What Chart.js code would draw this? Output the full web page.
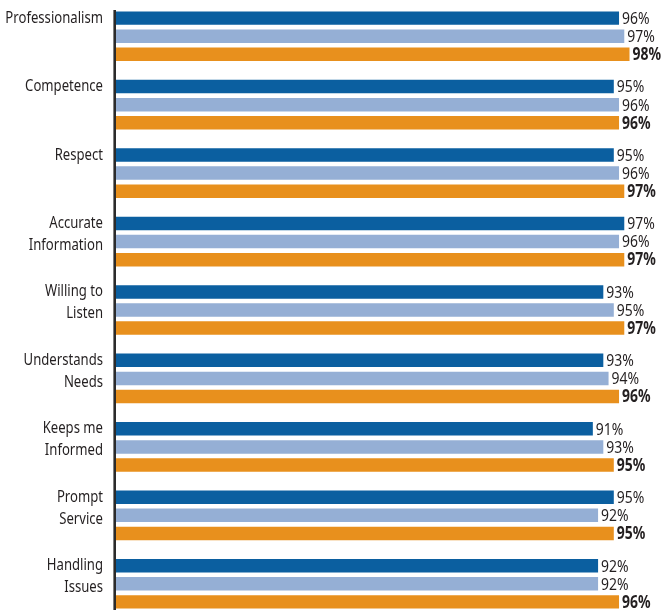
<!DOCTYPE html>
<html>
<head>
<meta charset="utf-8">
<script src="https://cdn.jsdelivr.net/npm/chart.js@4"></script>
<style>
    html, body { margin: 0; padding: 0; background: #fff; overflow: hidden; }
    #wrap { width: 664px; height: 620px; position: relative; }
</style>
</head>
<body>
<div id="wrap"><canvas id="myChart"></canvas></div>
<script>
// one entry per attribute, split over lines the way they are printed
const categories = [
    ['Professionalism'],
    ['Competence'],
    ['Respect'],
    ['Accurate', 'Information'],
    ['Willing to', 'Listen'],
    ['Understands', 'Needs'],
    ['Keeps me', 'Informed'],
    ['Prompt', 'Service'],
    ['Handling', 'Issues']
];
const seriesA = [96, 95, 95, 97, 93, 93, 91, 95, 92];
const seriesB = [97, 96, 96, 96, 95, 94, 93, 92, 92];
const seriesC = [98, 96, 97, 97, 97, 96, 95, 95, 96];
const seriesNames = ['Series 1', 'Series 2', 'Series 3'];

const FONT = '"Noto Sans", "Open Sans", sans-serif';
const TEXT = '#231f20';
const SQUEEZE = 0.82;   // condensed look for all text

function drawNarrow(ctx, str, x, y) {
    ctx.save();
    ctx.translate(x, y);
    ctx.scale(SQUEEZE, 1);
    ctx.fillText(str, 0, 0);
    ctx.restore();
}

// category names, first line level with the first bar of each group
const categoryLabels = {
    id: 'categoryLabels',
    afterDraw(chart) {
        const ctx = chart.ctx;
        const first = chart.getDatasetMeta(0).data;
        ctx.save();
        ctx.fillStyle = TEXT;
        ctx.textBaseline = 'middle';
        ctx.textAlign = 'right';
        ctx.font = '16px ' + FONT;
        chart.data.labels.forEach((lines, i) => {
            lines.forEach((line, k) => {
                drawNarrow(ctx, line, chart.chartArea.left - 13, first[i].y + k * 22);
            });
        });
        ctx.restore();
    }
};

const valueLabels = {
    id: 'valueLabels',
    afterDatasetsDraw(chart) {
        const ctx = chart.ctx;
        ctx.save();
        ctx.fillStyle = TEXT;
        ctx.textBaseline = 'middle';
        ctx.textAlign = 'left';
        chart.data.datasets.forEach((ds, i) => {
            ctx.font = (i === 2 ? 'bold ' : '') + '17px ' + FONT;
            chart.getDatasetMeta(i).data.forEach((bar, j) => {
                drawNarrow(ctx, ds.data[j] + '%', bar.x + 3, bar.y + 1);
            });
        });
        ctx.restore();
    }
};

// vertical axis rule on the left edge of the plot
const axisLine = {
    id: 'axisLine',
    afterDraw(chart) {
        const a = chart.chartArea;
        const ctx = chart.ctx;
        ctx.save();
        ctx.strokeStyle = '#2b2b2b';
        ctx.lineWidth = 2.6;
        ctx.beginPath();
        ctx.moveTo(a.left - 1.3, a.top + 8);
        ctx.lineTo(a.left - 1.3, a.bottom);
        ctx.stroke();
        ctx.restore();
    }
};

const ctx = document.getElementById('myChart').getContext('2d');
const myChart = new Chart(ctx, {
    type: 'bar',
    data: {
        labels: categories,
        datasets: [
            { label: seriesNames[0], data: seriesA, backgroundColor: '#0b5fa0' },
            { label: seriesNames[1], data: seriesB, backgroundColor: '#95afd5' },
            { label: seriesNames[2], data: seriesC, backgroundColor: '#e8901d' }
        ]
    },
    options: {
        indexAxis: 'y',
        responsive: true,
        maintainAspectRatio: false,
        animation: false,
        categoryPercentage: 0.793,
        barPercentage: 0.745,
        layout: { padding: { top: 2, bottom: 2, right: 24, left: 0 } },
        plugins: {
            legend: { display: false },
            tooltip: { enabled: false }
        },
        scales: {
            x: {
                display: false,
                min: 0,
                max: 100
            },
            y: {
                grid: { display: false, drawTicks: false },
                border: { display: false },
                ticks: { display: false },
                afterFit: (scale) => {
                    scale.width = 116;
                    scale.paddingTop = 0;
                    scale.paddingBottom = 0;
                }
            }
        }
    },
    plugins: [valueLabels, categoryLabels, axisLine]
});
</script>
</body>
</html>
